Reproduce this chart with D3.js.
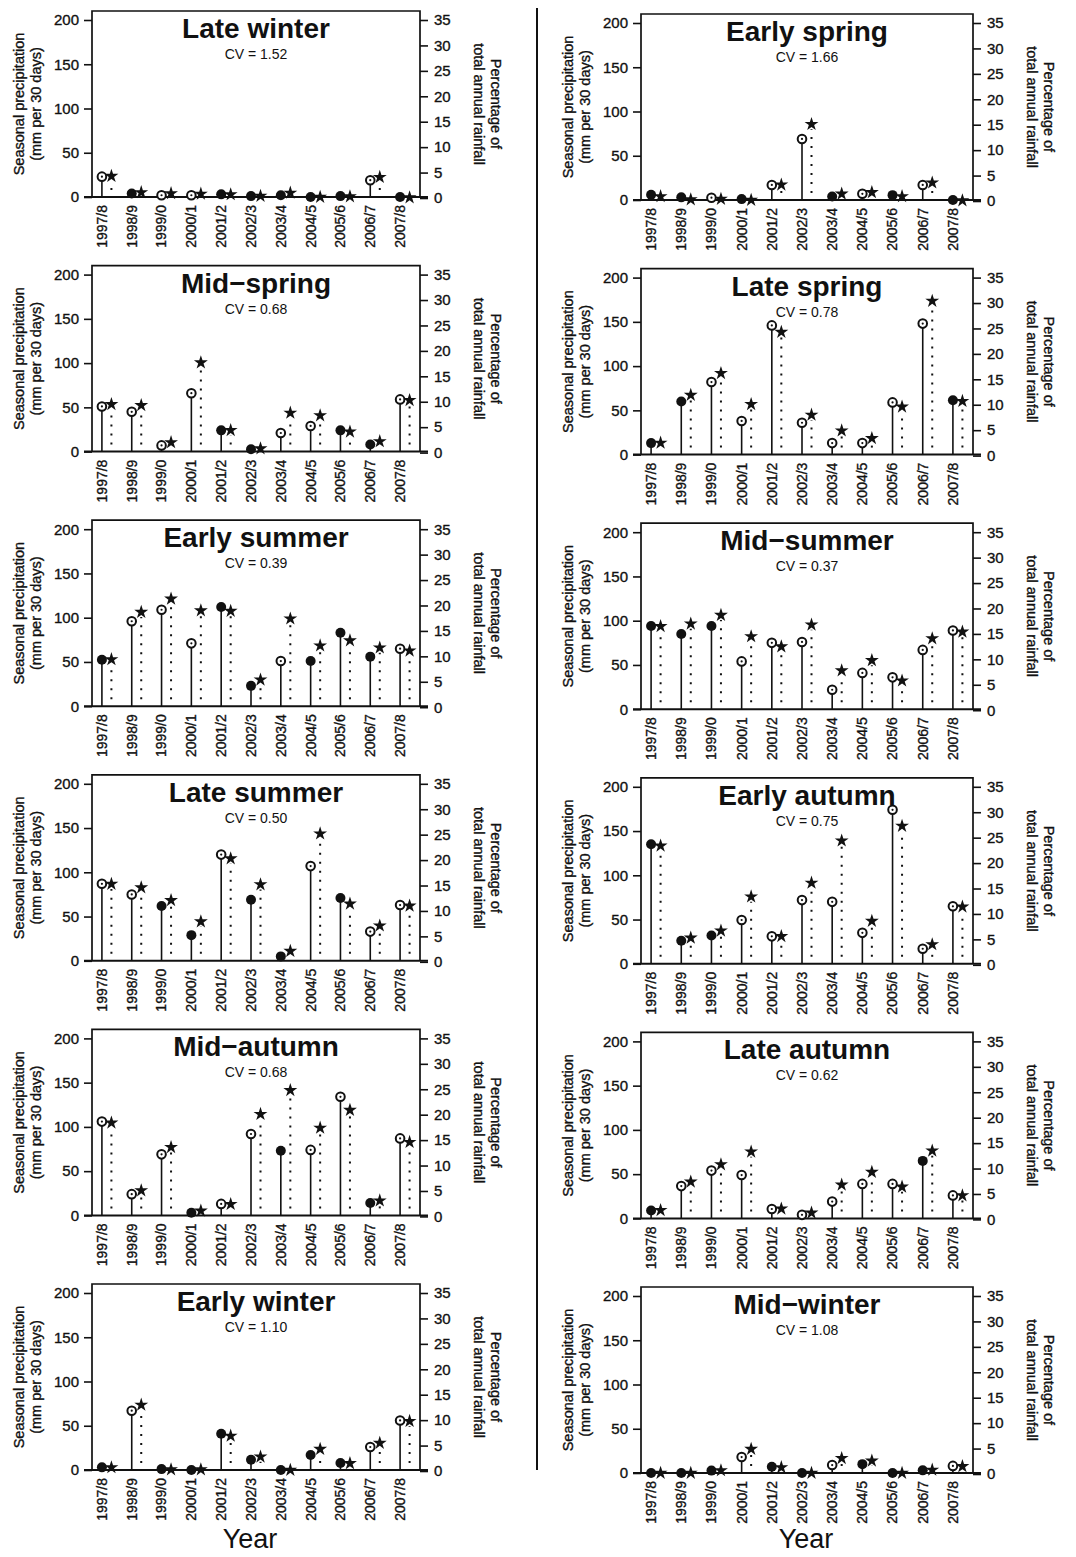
<!DOCTYPE html>
<html>
<head>
<meta charset="utf-8">
<style>
    body { margin: 0; background: #fff; }
    svg text { font-family: "Liberation Sans", Arial, sans-serif; fill: #111; }
    .heavy { stroke: #111; stroke-width: 0.35px; }
    .frame { fill: none; stroke: #111; stroke-width: 1.7px; }
    .stem { stroke: #111; stroke-width: 1.6px; }
    .dots { stroke: #111; stroke-width: 2px; stroke-dasharray: 2 7; }
</style>
<title>Seasonal precipitation</title>
</head>
<body>
<script src="https://cdn.jsdelivr.net/npm/d3@7"></script>
<script>
    // data
    const years = ['1997/8', '1998/9', '1999/0', '2000/1', '2001/2', '2002/3',
        '2003/4', '2004/5', '2005/6', '2006/7', '2007/8'];
    const seasons = ['Late winter', 'Early spring', 'Mid\u2212spring', 'Late spring',
        'Early summer', 'Mid\u2212summer', 'Late summer', 'Early autumn',
        'Mid\u2212autumn', 'Late autumn', 'Early winter', 'Mid\u2212winter'];
    const cvValues = ['1.52', '1.66', '0.68', '0.78', '0.39', '0.37', '0.50', '0.75',
        '0.68', '0.62', '1.10', '1.08'];
    const leftTicks = [0, 50, 100, 150, 200];
    const rightTicks = [0, 5, 10, 15, 20, 25, 30, 35];

    // mm per 30 days, % of annual rainfall, 1 = open circle / 0 = filled circle
    const lateWinterMm = [23, 4, 2, 2, 3, 1, 2, 0, 1, 19, 0];
    const lateWinterPct = [4.3, 1.1, 0.9, 0.8, 0.7, 0.4, 1.0, 0.2, 0.3, 4.1, 0.1];
    const lateWinterOpen = [1, 0, 1, 1, 0, 0, 0, 0, 0, 1, 0];

    const earlySpringMm = [6, 3, 2.6, 1, 17, 69, 4, 7, 5.5, 17, 0];
    const earlySpringPct = [0.9, 0.3, 0.4, 0.2, 3.2, 15.1, 1.4, 1.7, 0.9, 3.6, 0.1];
    const earlySpringOpen = [0, 0, 1, 0, 1, 1, 0, 1, 0, 1, 0];

    const midSpringMm = [51, 45, 7, 66, 24, 2.6, 21, 29, 24, 8, 59];
    const midSpringPct = [9.5, 9.3, 2.0, 17.7, 4.4, 0.8, 7.8, 7.3, 4.1, 2.2, 10.3];
    const midSpringOpen = [1, 1, 1, 1, 0, 0, 1, 1, 0, 0, 1];

    const lateSpringMm = [13, 60, 82, 38, 146, 36, 13, 13, 59, 148, 61.5];
    const lateSpringPct = [2.5, 11.9, 16.2, 10.1, 24.3, 8.0, 4.9, 3.4, 9.6, 30.4, 10.7];
    const lateSpringOpen = [0, 0, 1, 1, 1, 1, 1, 1, 1, 1, 0];

    const earlySummerMm = [52.5, 96, 109, 71, 112, 23, 51, 51, 83, 56, 65];
    const earlySummerPct = [9.4, 18.7, 21.3, 19.0, 18.9, 5.4, 17.4, 12.1, 13.1, 11.7, 11.1];
    const earlySummerOpen = [0, 1, 1, 1, 0, 0, 1, 0, 0, 0, 1];

    const midSummerMm = [94, 85, 94, 54, 75, 76, 22, 41, 36, 67, 89];
    const midSummerPct = [16.5, 17.0, 18.7, 14.5, 12.5, 16.8, 7.8, 9.8, 5.8, 14.1, 15.4];
    const midSummerOpen = [0, 0, 0, 1, 1, 1, 1, 1, 1, 1, 1];

    const lateSummerMm = [87, 75, 62, 29, 120, 69, 5, 107, 71, 33, 63];
    const lateSummerPct = [15.3, 14.6, 12.1, 7.9, 20.3, 15.2, 2.1, 25.2, 11.4, 7.1, 11.0];
    const lateSummerOpen = [1, 1, 0, 0, 1, 0, 0, 1, 0, 1, 1];

    const earlyAutumnMm = [135, 26, 32, 49.5, 31, 72, 70, 35, 174, 17, 65];
    const earlyAutumnPct = [23.4, 5.3, 6.7, 13.4, 5.6, 16.1, 24.4, 8.6, 27.3, 4.0, 11.4];
    const earlyAutumnOpen = [0, 0, 0, 1, 1, 1, 1, 1, 1, 1, 1];

    const midAutumnMm = [106, 24, 69, 3, 13, 92, 73, 74, 134, 14, 87];
    const midAutumnPct = [18.4, 5.1, 13.6, 1.1, 2.4, 20.1, 24.8, 17.4, 20.9, 3.1, 14.6];
    const midAutumnOpen = [1, 1, 1, 0, 1, 1, 0, 1, 1, 0, 1];

    const lateAutumnMm = [9, 36.5, 54, 49, 10.6, 4, 19, 39, 39, 65, 26];
    const lateAutumnPct = [1.8, 7.4, 10.8, 13.3, 2.1, 1.3, 6.8, 9.3, 6.4, 13.5, 4.7];
    const lateAutumnOpen = [0, 1, 1, 1, 1, 1, 1, 1, 1, 0, 1];

    const earlyWinterMm = [3, 67, 1, 0, 41, 11.5, 0, 17, 8, 26, 56];
    const earlyWinterPct = [0.7, 13.0, 0.3, 0.3, 6.9, 2.8, 0.2, 4.3, 1.5, 5.5, 9.8];
    const earlyWinterOpen = [0, 1, 0, 0, 0, 0, 0, 0, 0, 1, 1];

    const midWinterMm = [0, 0, 2.7, 18, 7, 0, 9, 10, 0, 3, 8];
    const midWinterPct = [0.2, 0.2, 0.7, 4.9, 1.3, 0.2, 3.1, 2.6, 0.2, 0.8, 1.5];
    const midWinterOpen = [0, 0, 0, 1, 0, 0, 1, 0, 0, 0, 1];

    const mmSets = [lateWinterMm, earlySpringMm, midSpringMm, lateSpringMm, earlySummerMm,
        midSummerMm, lateSummerMm, earlyAutumnMm, midAutumnMm, lateAutumnMm,
        earlyWinterMm, midWinterMm];
    const pctSets = [lateWinterPct, earlySpringPct, midSpringPct, lateSpringPct, earlySummerPct,
        midSummerPct, lateSummerPct, earlyAutumnPct, midAutumnPct, lateAutumnPct,
        earlyWinterPct, midWinterPct];
    const openSets = [lateWinterOpen, earlySpringOpen, midSpringOpen, lateSpringOpen,
        earlySummerOpen, midSummerOpen, lateSummerOpen, earlyAutumnOpen, midAutumnOpen,
        lateAutumnOpen, earlyWinterOpen, midWinterOpen];

    const svg = d3.select('body').append('svg')
        .attr('width', 1076)
        .attr('height', 1557);

    // two columns of panels
    const cols = [
        { left: 92, right: 420, base: 197 },
        { left: 641, right: 973, base: 200 },
    ];
    const rowStep = 254.6;
    const plotH = 177;

    const star = d3.symbol().type(d3.symbolStar).size(60);

    seasons.forEach((name, i) => {
        const col = cols[i % 2];
        const row = Math.floor(i / 2);
        const y0 = col.base + row * rowStep;

        const x = d3.scaleBand().domain(years).range([col.left, col.right]);
        const y = d3.scaleLinear().domain([0, 200]).range([y0, y0 - plotH]);
        const yr = d3.scaleLinear().domain([0, 35]).range([y0 + 1, y0 - plotH]);
        const top = y(200) - 9;
        const mid = (top + y0) / 2;
        const cx = (col.left + col.right) / 2;

        const data = years.map((yr_, j) => ({
            year: yr_, mm: mmSets[i][j], pct: pctSets[i][j], open: openSets[i][j],
        }));

        const g = svg.append('g');

        // frame + baseline
        g.append('path')
            .attr('class', 'frame')
            .attr('d', `M${col.left},${y0}V${top}H${col.right}V${y0}`);
        g.append('line')
            .attr('x1', col.left - 8).attr('x2', col.right + 8)
            .attr('y1', y0).attr('y2', y0)
            .attr('stroke', '#111').attr('stroke-width', 2);

        // left axis
        const ax = g.append('g')
            .attr('transform', `translate(${col.left},0)`)
            .call(d3.axisLeft(y).tickValues(leftTicks).tickSize(8).tickPadding(5));
        ax.select('.domain').remove();
        ax.selectAll('line').attr('stroke', '#111').attr('stroke-width', 1.6);
        ax.selectAll('text').attr('font-size', '15px').attr('fill', '#111').attr('class', 'heavy');

        // right axis
        const ar = g.append('g')
            .attr('transform', `translate(${col.right},0)`)
            .call(d3.axisRight(yr).tickValues(rightTicks).tickSize(8).tickPadding(6));
        ar.select('.domain').remove();
        ar.selectAll('line').attr('stroke', '#111').attr('stroke-width', 1.6);
        ar.selectAll('text').attr('font-size', '15px').attr('fill', '#111').attr('class', 'heavy');

        // year labels
        g.selectAll('.yl')
            .data(years)
            .enter().append('text')
            .attr('class', 'heavy')
            .attr('transform', d => `translate(${x(d) + x.bandwidth() / 2 - 5},${y0 + 8}) rotate(-90)`)
            .attr('dy', '0.35em')
            .style('text-anchor', 'end')
            .attr('font-size', '14px')
            .text(d => d);

        // axis titles
        g.append('text')
            .attr('class', 'heavy')
            .attr('transform', `translate(${col.left - 73},${mid}) rotate(-90)`)
            .attr('dy', '0.35em')
            .style('text-anchor', 'middle')
            .attr('font-size', '14.5px')
            .text('Seasonal precipitation');
        g.append('text')
            .attr('class', 'heavy')
            .attr('transform', `translate(${col.left - 56},${mid}) rotate(-90)`)
            .attr('dy', '0.35em')
            .style('text-anchor', 'middle')
            .attr('font-size', '14.5px')
            .text('(mm per 30 days)');
        g.append('text')
            .attr('class', 'heavy')
            .attr('transform', `translate(${col.right + 76},${mid}) rotate(90)`)
            .attr('dy', '0.35em')
            .style('text-anchor', 'middle')
            .attr('font-size', '14.5px')
            .text('Percentage of');
        g.append('text')
            .attr('class', 'heavy')
            .attr('transform', `translate(${col.right + 59},${mid}) rotate(90)`)
            .attr('dy', '0.35em')
            .style('text-anchor', 'middle')
            .attr('font-size', '14.5px')
            .text('total annual rainfall');

        // title + CV
        g.append('text')
            .attr('x', cx).attr('y', top + 27)
            .style('text-anchor', 'middle')
            .attr('font-size', '28px')
            .attr('font-weight', 'bold')
            .text(name);
        g.append('text')
            .attr('x', cx).attr('y', top + 48)
            .style('text-anchor', 'middle')
            .attr('font-size', '14px')
            .text(`CV = ${cvValues[i]}`);

        // percentage: dotted stems + stars
        const px = d => x(d.year) + x.bandwidth() / 2 + 4.5;
        g.selectAll('.dots')
            .data(data.filter(d => yr(d.pct) < y0 - 12))
            .enter().append('line')
            .attr('class', 'dots')
            .attr('x1', px).attr('x2', px)
            .attr('y1', y0 - 7)
            .attr('y2', d => yr(d.pct) + 5);
        g.selectAll('.star')
            .data(data)
            .enter().append('path')
            .attr('d', star)
            .attr('fill', '#111')
            .attr('transform', d => `translate(${px(d)},${yr(d.pct)})`);

        // precipitation: solid stems + circles
        const mx = d => x(d.year) + x.bandwidth() / 2 - 5;
        g.selectAll('.stem')
            .data(data)
            .enter().append('line')
            .attr('class', 'stem')
            .attr('x1', mx).attr('x2', mx)
            .attr('y1', y0)
            .attr('y2', d => y(d.mm));
        g.selectAll('.dot')
            .data(data)
            .enter().append('circle')
            .attr('cx', mx)
            .attr('cy', d => y(d.mm))
            .attr('r', d => d.open ? 4.3 : 5)
            .attr('fill', d => d.open ? '#fff' : '#111')
            .attr('stroke', '#111')
            .attr('stroke-width', d => d.open ? 2 : 0);
        g.selectAll('.centre')
            .data(data.filter(d => d.open))
            .enter().append('circle')
            .attr('cx', mx)
            .attr('cy', d => y(d.mm))
            .attr('r', 1.1)
            .attr('fill', '#111');
    });

    // column divider
    svg.append('line')
        .attr('x1', 537).attr('x2', 537)
        .attr('y1', 8).attr('y2', 1470)
        .attr('stroke', '#111').attr('stroke-width', 2);

    // x titles
    [250, 806].forEach(xp => {
        svg.append('text')
            .attr('x', xp).attr('y', 1548)
            .style('text-anchor', 'middle')
            .attr('font-size', '27px')
            .text('Year');
    });
</script>
</body>
</html>
